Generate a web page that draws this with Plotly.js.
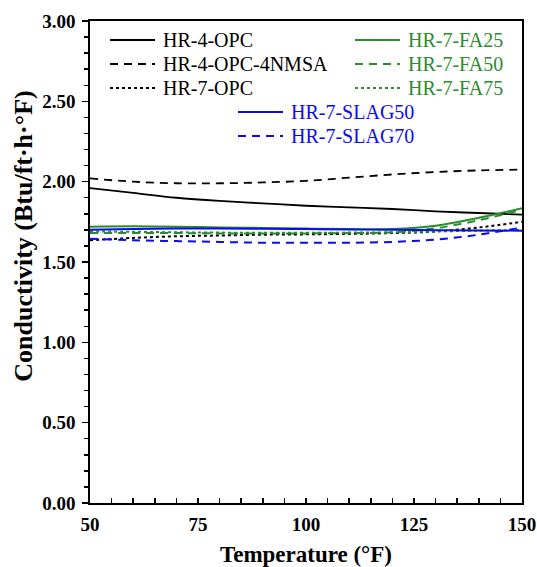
<!DOCTYPE html>
<html>
<head>
<meta charset="utf-8">
<script src="https://cdn.plot.ly/plotly-3.0.1.min.js"></script>
<style>html,body{margin:0;padding:0;background:#fff;}#chart{width:537px;height:567px;}</style>
</head>
<body>
<div id="chart"></div>
<script>
// Temperature (°F)
const temps = [50, 60, 70, 80, 90, 100, 110, 120, 130, 140, 150];
// Conductivity (Btu/ft·h·°F)
const hr4opc      = [1.96, 1.93, 1.90, 1.88, 1.865, 1.85, 1.84, 1.83, 1.815, 1.805, 1.795];
const hr4opc4nmsa = [2.02, 2.00, 1.99, 1.99, 1.995, 2.005, 2.025, 2.045, 2.06, 2.07, 2.075];
const hr7opc      = [1.635, 1.65, 1.66, 1.665, 1.67, 1.672, 1.675, 1.68, 1.69, 1.715, 1.75];
const hr7fa25     = [1.72, 1.722, 1.72, 1.715, 1.712, 1.708, 1.705, 1.705, 1.725, 1.775, 1.835];
const hr7fa50     = [1.68, 1.68, 1.68, 1.678, 1.678, 1.678, 1.68, 1.685, 1.71, 1.76, 1.825];
const hr7fa75     = [1.69, 1.688, 1.685, 1.683, 1.682, 1.682, 1.683, 1.685, 1.69, 1.695, 1.70];
const hr7slag50   = [1.70, 1.705, 1.708, 1.708, 1.707, 1.705, 1.703, 1.70, 1.698, 1.696, 1.695];
const hr7slag70   = [1.645, 1.635, 1.63, 1.625, 1.62, 1.62, 1.62, 1.625, 1.64, 1.67, 1.715];

const seriesNames = ['HR-4-OPC', 'HR-4-OPC-4NMSA', 'HR-7-OPC', 'HR-7-FA25', 'HR-7-FA50', 'HR-7-FA75', 'HR-7-SLAG50', 'HR-7-SLAG70'];
const seriesValues = [hr4opc, hr4opc4nmsa, hr7opc, hr7fa25, hr7fa50, hr7fa75, hr7slag50, hr7slag70];

const BLACK = '#000000', GREEN = '#2A8C2A', BLUE = '#0A0AF5';
const styles = [
  {color: BLACK, dash: 'solid', width: 1.8},
  {color: BLACK, dash: '8px,6px', width: 1.8},
  {color: BLACK, dash: 'dot', width: 2},
  {color: GREEN, dash: 'solid', width: 2},
  {color: GREEN, dash: '8px,6px', width: 2},
  {color: GREEN, dash: 'dot', width: 2},
  {color: BLUE, dash: 'solid', width: 2},
  {color: BLUE, dash: '8px,6px', width: 2}
];

const traces = seriesNames.map((n, i) => ({
  x: temps, y: seriesValues[i], name: n, type: 'scatter', mode: 'lines',
  line: {color: styles[i].color, dash: styles[i].dash, width: styles[i].width, shape: 'spline'},
  showlegend: false
}));

// custom legend layout (pixel positions inside the plot area)
const plotL = 90, plotR = 522, plotT = 21, plotB = 503;
const px = v => (v - plotL) / (plotR - plotL);
const py = v => (plotB - v) / (plotB - plotT);
const legendPos = [
  {lx: 110, ty: 40}, {lx: 110, ty: 64}, {lx: 110, ty: 88},
  {lx: 355, ty: 40}, {lx: 355, ty: 64}, {lx: 355, ty: 88},
  {lx: 238, ty: 112}, {lx: 238, ty: 136}
];
const shapes = [], annotations = [];
seriesNames.forEach((n, i) => {
  const p = legendPos[i];
  shapes.push({type: 'line', xref: 'paper', yref: 'paper', x0: px(p.lx), x1: px(p.lx + 45), y0: py(p.ty), y1: py(p.ty),
    line: {color: styles[i].color, dash: styles[i].dash, width: styles[i].width}});
  annotations.push({xref: 'paper', yref: 'paper', x: px(p.lx + 51), y: py(p.ty), text: n, showarrow: false,
    xanchor: 'left', yanchor: 'middle', font: {family: 'Liberation Serif', size: 20, color: styles[i].color}});
});

const pad = '&nbsp;'.repeat(8);

const layout = {
  width: 537, height: 567,
  margin: {l: plotL, r: 537 - plotR, t: plotT, b: 567 - plotB},
  paper_bgcolor: '#fff', plot_bgcolor: '#fff',
  font: {family: 'Liberation Serif', color: '#000'},
  showlegend: false,
  xaxis: {
    range: [50, 150], tickvals: [50, 75, 100, 125, 150], ticktext: ['50', '75', '100', '125', '150'],
    ticks: 'inside', ticklen: 5, tickwidth: 1.5, tickcolor: '#000',
    minor: {dtick: 5, tick0: 50, ticks: 'inside', ticklen: 5, tickwidth: 1.5, tickcolor: '#000'},
    showline: true, linecolor: '#000', linewidth: 1.8, mirror: true,
    showgrid: false, zeroline: false, ticklabelstandoff: 3,
    tickfont: {family: 'Liberation Serif', size: 19, weight: 'bold', color: '#000'},
    title: {text: '<b>Temperature (°F)</b>', font: {family: 'Liberation Serif', size: 23, color: '#000'}, standoff: 14}
  },
  yaxis: {
    range: [0, 3], dtick: 0.5, tick0: 0, tickformat: '.2f',
    ticks: 'outside', ticklen: 6, tickwidth: 1.5, tickcolor: '#000',
    minor: {dtick: 0.1, tick0: 0, ticks: 'outside', ticklen: 4, tickwidth: 1.5, tickcolor: '#000'},
    showline: true, linecolor: '#000', linewidth: 1.8, mirror: true,
    showgrid: false, zeroline: false, ticklabelstandoff: 3,
    tickfont: {family: 'Liberation Serif', size: 19, weight: 'bold', color: '#000'},
    title: {text: pad + '<b>Conductivity (Btu/ft·h·°F)</b>', font: {family: 'Liberation Serif', size: 26, color: '#000'}, standoff: 2}
  },
  shapes: shapes,
  annotations: annotations
};

Plotly.newPlot('chart', traces, layout, {displayModeBar: false, staticPlot: true});
</script>
</body>
</html>
